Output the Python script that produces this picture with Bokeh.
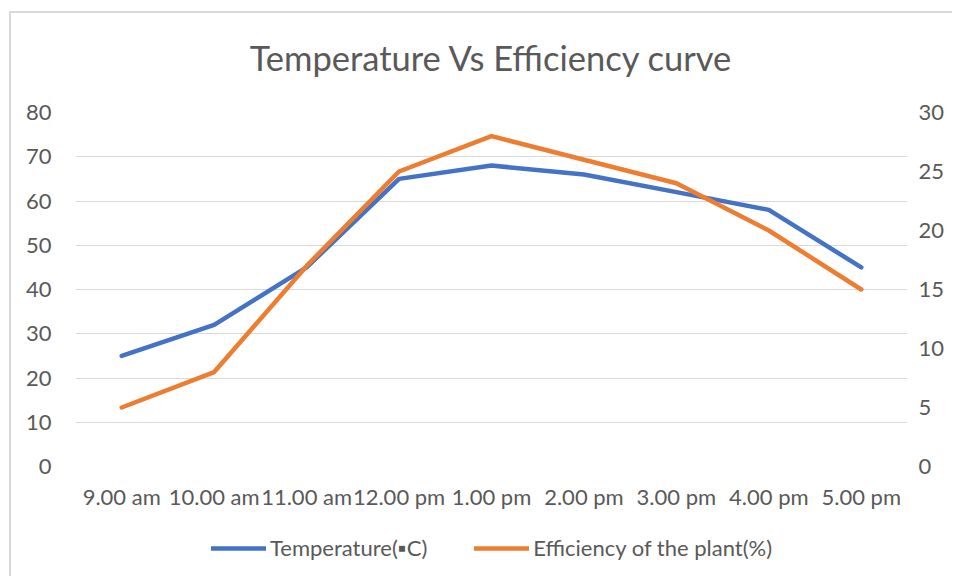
from bokeh.plotting import figure
from bokeh.layouts import column
from bokeh.models import (Range1d, LinearAxis, FactorRange, Legend, LegendItem,
                          FixedTicker, Label)
from bokeh.embed import file_html
from bokeh.resources import INLINE

title_text = "Temperature Vs Efficiency curve"
times = ["9.00 am", "10.00 am", "11.00 am", "12.00 pm", "1.00 pm",
         "2.00 pm", "3.00 pm", "4.00 pm", "5.00 pm"]
temperature = [25, 32, 45, 65, 68, 66, 62, 58, 45]
efficiency = [5, 8, 17, 25, 28, 26, 24, 20, 15]
left_ticks = [0, 10, 20, 30, 40, 50, 60, 70, 80]
right_ticks = [0, 5, 10, 15, 20, 25, 30]
series_names = ["Temperature(▪C)", "Efficiency of the plant(%)"]
series_colors = ["#4472C4", "#ED7D31"]

FONT = "Lato"
TXT = "#595959"


def strip(height, x_range, y_range):
    f = figure(width=941, height=height, x_range=x_range, y_range=y_range,
               output_backend="svg", toolbar_location=None, min_border=0)
    f.axis.visible = False
    f.grid.grid_line_color = None
    f.outline_line_color = None
    return f


# ---- title strip ----
tf = strip(84, Range1d(0, 1), Range1d(0, 1))
tf.add_layout(Label(x=416, y=40, x_units="screen", y_units="screen",
                    text=title_text, text_align="center", text_baseline="middle",
                    text_font=FONT, text_font_size="34.5px", text_color=TXT))

# ---- main chart ----
p = figure(frame_width=832, frame_height=354,
           x_range=FactorRange(*times),
           y_range=Range1d(0, 80),
           output_backend="svg", toolbar_location=None,
           min_border_left=64, min_border_right=45,
           min_border_top=15, min_border_bottom=50)
p.extra_y_ranges = {"eff": Range1d(0, 30)}

p.outline_line_color = None
p.xgrid.grid_line_color = None
p.ygrid.ticker = FixedTicker(ticks=left_ticks)
p.ygrid.grid_line_color = "#d9d9d9"
p.ygrid.grid_line_width = 1

p.yaxis.ticker = FixedTicker(ticks=left_ticks)

r_axis = LinearAxis(y_range_name="eff", ticker=FixedTicker(ticks=right_ticks))
p.add_layout(r_axis, "right")

for ax in [p.xaxis[0], p.yaxis[0], r_axis]:
    ax.axis_line_color = None
    ax.major_tick_line_color = None
    ax.minor_tick_line_color = None
    ax.major_label_text_font = FONT
    ax.major_label_text_font_size = "22px"
    ax.major_label_text_color = TXT

p.xaxis.major_label_standoff = 10
p.yaxis[0].major_label_standoff = 18
r_axis.major_label_standoff = 5

p.line(x=times, y=temperature, line_width=4.5, color=series_colors[0],
       line_cap="round", line_join="round")
p.line(x=times, y=efficiency, line_width=4.5, color=series_colors[1],
       line_cap="round", line_join="round", y_range_name="eff")

# ---- legend strip (series drawn off-range so only the legend shows) ----
lf = strip(60, FactorRange(*times), Range1d(1000, 1001))
items = []
for name, col, vals in zip(series_names, series_colors, [temperature, efficiency]):
    rr = lf.line(x=times, y=vals, line_width=4.5, color=col, line_cap="round")
    items.append(LegendItem(label=name, renderers=[rr]))

legend = Legend(items=items, orientation="horizontal", location=(136, 15),
                glyph_width=55, glyph_height=26, label_height=26,
                label_standoff=4, spacing=47, padding=0, margin=0,
                label_text_font=FONT, label_text_font_size="22px",
                label_text_color=TXT, border_line_color=None,
                background_fill_alpha=0)
lf.add_layout(legend, "center")

layout = column(tf, p, lf, spacing=0)
layout.styles = {"border-left": "2px solid #d9d9d9", "border-top": "2px solid #d9d9d9",
                 "margin-left": "9px", "margin-top": "11px"}

open("out.html", "w").write(file_html(layout, INLINE))
